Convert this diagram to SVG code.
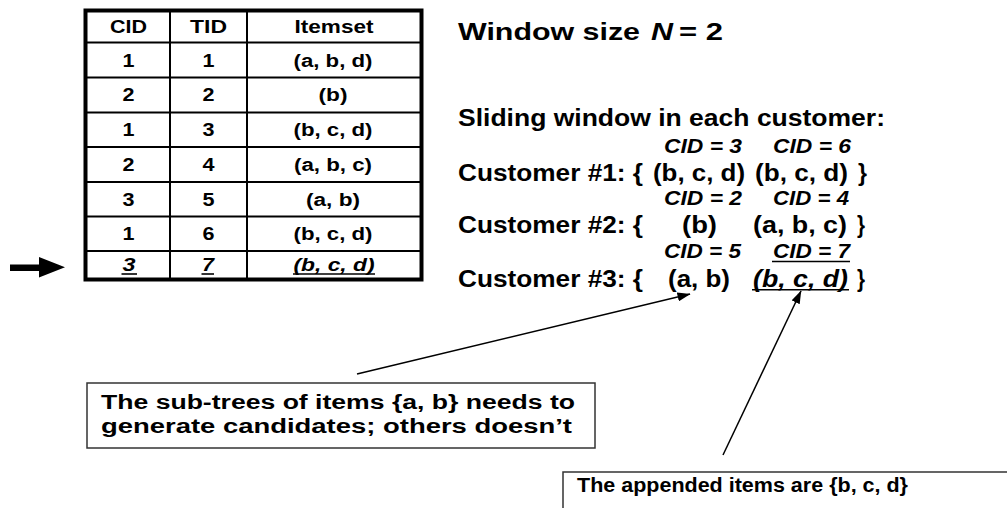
<svg xmlns="http://www.w3.org/2000/svg" width="1007" height="508" viewBox="0 0 1007 508">
  <style>
    text { font-family: "Liberation Sans", Arial, sans-serif; font-weight: bold; fill: #000; }
    .cell { font-size: 17.5px; text-anchor: middle; }
    .it { font-style: italic; }
    .head { font-size: 24.5px; }
    .big { font-size: 23.5px; }
    .cid { font-size: 20px; font-style: italic; }
    .note { font-size: 20px; }
    .grid { stroke: #000; stroke-width: 2; fill: none; }
    .ul { stroke: #000; stroke-width: 1.6; }
    .box { fill: #fff; stroke: #333; stroke-width: 1.5; }
    .conn { stroke: #000; stroke-width: 1.5; fill: none; }
  </style>
  <defs>
    <marker id="tip" markerUnits="userSpaceOnUse" markerWidth="13" markerHeight="9" refX="12.5" refY="4.5" orient="auto">
      <path d="M0,0 L13,4.5 L0,9 Z" fill="#000"/>
    </marker>
  </defs>

  <rect width="1007" height="508" fill="#fff"/>

  <!-- pointer at the newest transaction -->
  <g id="pointer">
    <polygon points="10,264.5 39,264.5 39,257 65,267.3 39,277.5 39,271 10,271" fill="#000"/>
  </g>

  <!-- transaction table -->
  <g id="table">
    <rect x="85.5" y="10.5" width="336" height="269" fill="#fff" stroke="#000" stroke-width="4"/>
    <line class="grid" x1="170" y1="10.5" x2="170" y2="279.5"/>
    <line class="grid" x1="247" y1="10.5" x2="247" y2="279.5"/>
    <line class="grid" x1="85.5" y1="42.5" x2="421.5" y2="42.5"/>
    <line class="grid" x1="85.5" y1="77.5" x2="421.5" y2="77.5"/>
    <line class="grid" x1="85.5" y1="112.5" x2="421.5" y2="112.5"/>
    <line class="grid" x1="85.5" y1="147" x2="421.5" y2="147"/>
    <line class="grid" x1="85.5" y1="182" x2="421.5" y2="182"/>
    <line class="grid" x1="85.5" y1="216.5" x2="421.5" y2="216.5"/>
    <line class="grid" x1="85.5" y1="251" x2="421.5" y2="251"/>

    <text class="cell" x="128.5" y="33" textLength="37" lengthAdjust="spacingAndGlyphs">CID</text>
    <text class="cell" x="208.5" y="33" textLength="37" lengthAdjust="spacingAndGlyphs">TID</text>
    <text class="cell" x="334" y="33" textLength="79" lengthAdjust="spacingAndGlyphs">Itemset</text>

    <text class="cell" x="128.5" y="66.5" textLength="12" lengthAdjust="spacingAndGlyphs">1</text>
    <text class="cell" x="208.5" y="66.5" textLength="12" lengthAdjust="spacingAndGlyphs">1</text>
    <text class="cell" x="333" y="66.5" textLength="79" lengthAdjust="spacingAndGlyphs">(a, b, d)</text>

    <text class="cell" x="128.5" y="101.3" textLength="12" lengthAdjust="spacingAndGlyphs">2</text>
    <text class="cell" x="208.5" y="101.3" textLength="12" lengthAdjust="spacingAndGlyphs">2</text>
    <text class="cell" x="333" y="101.3" textLength="29" lengthAdjust="spacingAndGlyphs">(b)</text>

    <text class="cell" x="128.5" y="136" textLength="12" lengthAdjust="spacingAndGlyphs">1</text>
    <text class="cell" x="208.5" y="136" textLength="12" lengthAdjust="spacingAndGlyphs">3</text>
    <text class="cell" x="333" y="136" textLength="79" lengthAdjust="spacingAndGlyphs">(b, c, d)</text>

    <text class="cell" x="128.5" y="170.8" textLength="12" lengthAdjust="spacingAndGlyphs">2</text>
    <text class="cell" x="208.5" y="170.8" textLength="12" lengthAdjust="spacingAndGlyphs">4</text>
    <text class="cell" x="333" y="170.8" textLength="78" lengthAdjust="spacingAndGlyphs">(a, b, c)</text>

    <text class="cell" x="128.5" y="205.5" textLength="12" lengthAdjust="spacingAndGlyphs">3</text>
    <text class="cell" x="208.5" y="205.5" textLength="12" lengthAdjust="spacingAndGlyphs">5</text>
    <text class="cell" x="333" y="205.5" textLength="54" lengthAdjust="spacingAndGlyphs">(a, b)</text>

    <text class="cell" x="128.5" y="240" textLength="12" lengthAdjust="spacingAndGlyphs">1</text>
    <text class="cell" x="208.5" y="240" textLength="12" lengthAdjust="spacingAndGlyphs">6</text>
    <text class="cell" x="333" y="240" textLength="79" lengthAdjust="spacingAndGlyphs">(b, c, d)</text>

    <text class="cell it" x="129" y="271" textLength="13" lengthAdjust="spacingAndGlyphs">3</text>
    <text class="cell it" x="208" y="271" textLength="12" lengthAdjust="spacingAndGlyphs">7</text>
    <text class="cell it" x="334" y="271" textLength="81" lengthAdjust="spacingAndGlyphs">(b, c, d)</text>
    <line class="ul" x1="121.5" y1="274" x2="137" y2="274"/>
    <line class="ul" x1="201.5" y1="274" x2="214" y2="274"/>
    <line class="ul" x1="293" y1="274" x2="375" y2="274"/>
  </g>

  <!-- window size -->
  <g id="window-size">
    <text class="head" x="458" y="39.5" textLength="182" lengthAdjust="spacingAndGlyphs">Window size</text>
    <text class="head it" x="651" y="39.5" textLength="22" lengthAdjust="spacingAndGlyphs">N</text>
    <text class="head" x="679" y="39.5" textLength="44" lengthAdjust="spacingAndGlyphs">= 2</text>
  </g>

  <!-- sliding windows per customer -->
  <g id="sliding-windows">
    <text class="big" x="458" y="126" textLength="427" lengthAdjust="spacingAndGlyphs">Sliding window in each customer:</text>

    <text class="cid" x="664" y="153" textLength="78" lengthAdjust="spacingAndGlyphs">CID = 3</text>
    <text class="cid" x="773" y="153" textLength="78" lengthAdjust="spacingAndGlyphs">CID = 6</text>
    <text class="big" x="458" y="181" textLength="185" lengthAdjust="spacingAndGlyphs">Customer #1: {</text>
    <text class="big" x="653" y="181" textLength="92" lengthAdjust="spacingAndGlyphs">(b, c, d)</text>
    <text class="big" x="755" y="181" textLength="93" lengthAdjust="spacingAndGlyphs">(b, c, d)</text>
    <text class="big" x="858" y="181" textLength="9" lengthAdjust="spacingAndGlyphs">}</text>

    <text class="cid" x="664" y="205" textLength="78" lengthAdjust="spacingAndGlyphs">CID = 2</text>
    <text class="cid" x="773" y="205" textLength="76" lengthAdjust="spacingAndGlyphs">CID = 4</text>
    <text class="big" x="458" y="233" textLength="185" lengthAdjust="spacingAndGlyphs">Customer #2: {</text>
    <text class="big" x="682" y="233" textLength="35" lengthAdjust="spacingAndGlyphs">(b)</text>
    <text class="big" x="753" y="233" textLength="94" lengthAdjust="spacingAndGlyphs">(a, b, c)</text>
    <text class="big" x="857" y="233" textLength="8" lengthAdjust="spacingAndGlyphs">}</text>

    <text class="cid" x="664" y="258" textLength="77" lengthAdjust="spacingAndGlyphs">CID = 5</text>
    <text class="cid" x="773" y="258" textLength="77" lengthAdjust="spacingAndGlyphs">CID = 7</text>
    <line class="ul" x1="772" y1="261.5" x2="850" y2="261.5"/>
    <text class="big" x="458" y="287" textLength="185" lengthAdjust="spacingAndGlyphs">Customer #3: {</text>
    <text class="big" x="668" y="287" textLength="62" lengthAdjust="spacingAndGlyphs">(a, b)</text>
    <text class="big it" x="753" y="287" textLength="95" lengthAdjust="spacingAndGlyphs">(b, c, d)</text>
    <line class="ul" x1="752" y1="289.8" x2="849" y2="289.8"/>
    <text class="big" x="857" y="287" textLength="8" lengthAdjust="spacingAndGlyphs">}</text>
  </g>

  <!-- callout connectors -->
  <g id="connectors">
    <line class="conn" x1="357" y1="374" x2="690" y2="294" marker-end="url(#tip)"/>
    <line class="conn" x1="723" y1="455" x2="801" y2="291" marker-end="url(#tip)"/>
  </g>

  <!-- callout: sub-trees -->
  <g id="note-subtrees">
    <rect class="box" x="87" y="383" width="508" height="65"/>
    <text class="note" x="101" y="409" textLength="474" lengthAdjust="spacingAndGlyphs">The sub-trees of items {a, b} needs to</text>
    <text class="note" x="101" y="432.5" textLength="471" lengthAdjust="spacingAndGlyphs">generate candidates; others doesn’t</text>
  </g>

  <!-- callout: appended items -->
  <g id="note-appended">
    <rect class="box" x="563" y="472" width="460" height="50"/>
    <text class="note" x="577" y="491.5" textLength="331" lengthAdjust="spacingAndGlyphs">The appended items are {b, c, d}</text>
  </g>
</svg>
